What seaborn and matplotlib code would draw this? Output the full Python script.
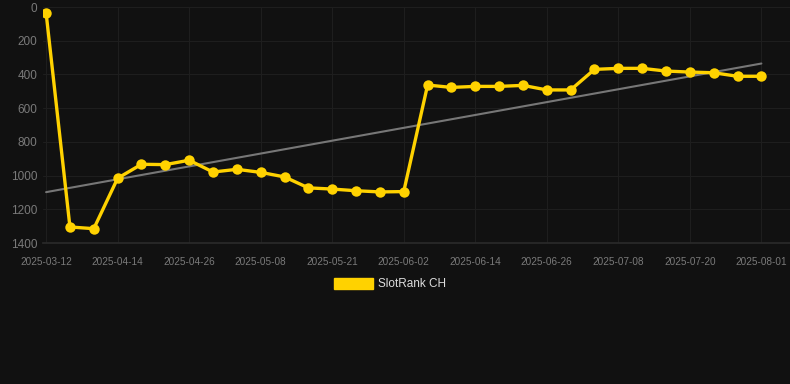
import numpy as np
import pandas as pd
import matplotlib
matplotlib.use("Agg")
import matplotlib.pyplot as plt
import matplotlib.patches as mpatches
import seaborn as sns

dates = ["2025-03-12", "2025-03-23", "2025-04-03", "2025-04-14", "2025-04-18", "2025-04-22",
         "2025-04-26", "2025-04-30", "2025-05-04", "2025-05-08", "2025-05-12", "2025-05-16",
         "2025-05-21", "2025-05-25", "2025-05-29", "2025-06-02", "2025-06-06", "2025-06-10",
         "2025-06-14", "2025-06-18", "2025-06-22", "2025-06-26", "2025-06-30", "2025-07-04",
         "2025-07-08", "2025-07-12", "2025-07-16", "2025-07-20", "2025-07-24", "2025-07-28",
         "2025-08-01"]
ranks = [35, 1305, 1315, 1016, 933, 935, 909, 979, 963, 981, 1008, 1073, 1080, 1090, 1097,
         1095, 463, 477, 471, 471, 465, 492, 492, 370, 364, 364, 380, 386, 390, 411, 411]
series_name = "SlotRank CH"
y_ticks = [0, 200, 400, 600, 800, 1000, 1200, 1400]

BG = "#111111"
GOLD = "#FFD200"
GRID = "#1e1e1e"
TICK = "#7a7a7a"

sns.set_theme(style="dark")
plt.rcParams["font.family"] = ["Liberation Sans", "DejaVu Sans"]

df = pd.DataFrame({"pos": np.arange(len(dates)), "date": dates, "rank": ranks})

fig = plt.figure(figsize=(7.9, 3.84), dpi=100, facecolor=BG)
ax = fig.add_axes([43 / 790, 1 - 243 / 384, 1 - 43 / 790, (243 - 7) / 384])
ax.set_facecolor(BG)

sns.regplot(data=df, x="pos", y="rank", ax=ax, scatter=False, ci=None, truncate=True,
            line_kws=dict(color="#777777", lw=1.5, zorder=2))
sns.lineplot(data=df, x="pos", y="rank", ax=ax, color=GOLD, lw=2.4, marker="o",
             markersize=7.5, markeredgewidth=0, zorder=3)

ax.set_ylim(1400, 0)
ax.set_xlim(-0.13, len(dates) - 1 + 1.2)
ax.set_yticks(y_ticks)
ax.set_yticklabels([str(v) for v in y_ticks])
tick_pos = list(range(0, len(dates), 3))
ax.set_xticks(tick_pos)
ax.set_xticklabels([dates[i] for i in tick_pos])
ax.tick_params(axis="x", colors=TICK, labelsize=7.2, length=0, pad=10)
ax.tick_params(axis="y", colors=TICK, labelsize=8.5, length=0, pad=4)
ax.grid(True, color=GRID, lw=0.8)
for s in ["top", "right", "left"]:
    ax.spines[s].set_visible(False)
ax.spines["bottom"].set_color("#2a2a2a")
ax.set_xlabel("")
ax.set_ylabel("")

handle = mpatches.Patch(color=GOLD, label=series_name)
fig.legend(handles=[handle], loc="center", bbox_to_anchor=(390 / 790, 1 - 284 / 384),
           frameon=False, fontsize=8.5, labelcolor="#dddddd", handlelength=3.3,
           handleheight=1.1, handletextpad=0.5)

fig.savefig("out.png", dpi=100, facecolor=BG)
